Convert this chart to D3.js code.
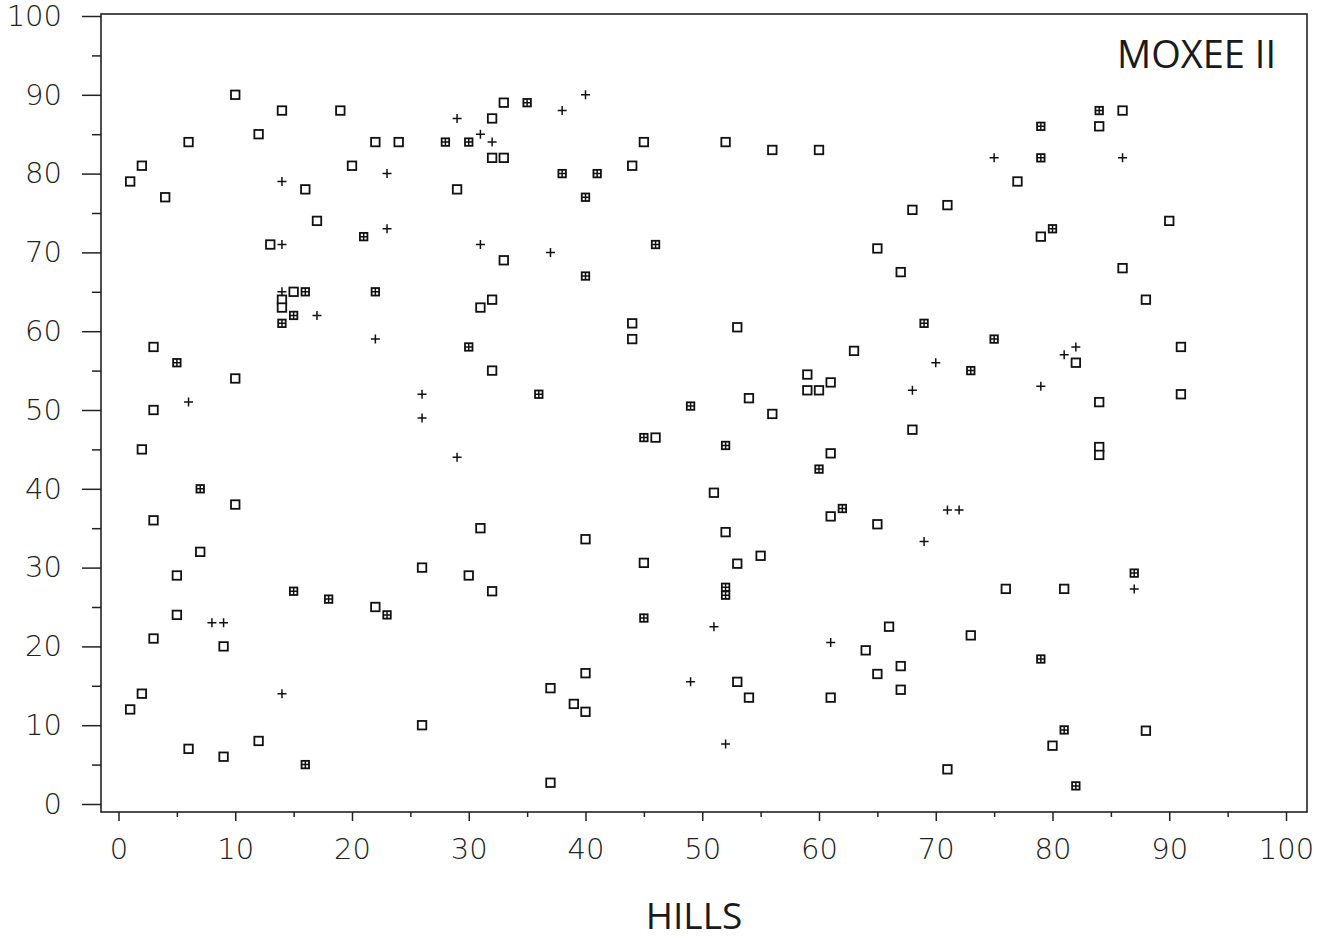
<!DOCTYPE html>
<html>
  <head>
    <title>MOXEE II</title>
    <script src="https://cdn.jsdelivr.net/npm/d3@7"></script>
    <style>
      body { margin: 0; background: #fff; }
      .tick text { font-family: "DejaVu Sans", sans-serif; font-weight: 200; fill: #222; }
    </style>
  </head>
  <body>
    <svg width="1331" height="939" id="mainsvg"></svg>
    <script>
      // values, [HILLS, y]
      const openSquares = [
        [10,90],[14,88],[19,88],[6,84],[12,85],[2,81],[1,79],[4,77],[16,78],[20,81],[22,84],[24,84],
        [32,87],[33,89],[32,82],[33,82],[29,78],[17,74],[13,71],[33,69],[15,65],[14,64],[14,63],
        [32,64],[31,63],[32,55],[3,58],[10,54],[3,50],
        [44,81],[45,84],[52,84],[56,83],[60,83],[68,75.4],[65,70.5],[67,67.5],[44,61],[44,59],
        [53,60.5],[63,57.5],[59,54.5],[59,52.5],[60,52.5],[61,53.5],[54,51.5],[56,49.5],
        [86,88],[84,86],[77,79],[71,76],[90,74],[79,72],[86,68],[88,64],[82,56],[91,58],[91,52],[84,51],
        [2,45],[10,38],[3,36],[7,32],[5,29],[5,24],[9,20],[3,21],[2,14],[1,12],[6,7],[9,6],[12,8],
        [22,25],[26,30],[26,10],[31,35],[30,29],[32,27],
        [46,46.5],[68,47.5],[61,44.5],[51,39.5],[61,36.5],[65,35.5],[40,33.6],[52,34.5],[45,30.6],
        [53,30.5],[55,31.5],[66,22.5],[64,19.5],[67,17.5],[65,16.5],[67,14.5],[61,13.5],[40,16.6],
        [37,14.7],[39,12.7],[40,11.7],[53,15.5],[54,13.5],[37,2.7],
        [84,45.3],[84,44.3],[76,27.3],[81,27.3],[73,21.4],[88,9.3],[80,7.4],[71,4.4]
      ];
      const crossedSquares = [
        [28,84],[30,84],[21,72],[16,65],[22,65],[14,61],[15,62],[30,58],[5,56],[35,89],[38,80],
        [41,80],[40,77],[46,71],[40,67],[36,52],[49,50.5],[84,88],[79,86],[79,82],[80,73],[69,61],
        [75,59],[73,55],[7,40],[16,5],[15,27],[18,26],[23,24],[45,46.5],[52,45.5],[60,42.5],
        [62,37.5],[52,27.5],[52,26.5],[45,23.6],[87,29.3],[79,18.4],[81,9.4],[82,2.3]
      ];
      const plusSigns = [
        [29,87],[31,85],[32,84],[14,79],[23,80],[23,73],[14,71],[31,71],[14,65],[17,62],[22,59],
        [6,51],[26,52],[26,49],[38,88],[40,90],[37,70],[68,52.5],[75,82],[86,82],[70,56],[82,58],
        [81,57],[79,53],[8,23],[9,23],[14,14],[29,44],[51,22.5],[61,20.5],[49,15.5],[52,7.6],
        [71,37.3],[72,37.3],[69,33.3],[87,27.3]
      ];
      const majorTicks = [0,10,20,30,40,50,60,70,80,90,100];
      const minorTicks = [5,15,25,35,45,55,65,75,85,95];
      const chartTitle = 'MOXEE II';
      const xAxisLabel = 'HILLS';

      const svg = d3.select('#mainsvg');
      const frame = {left: 101, right: 1307, top: 14, bottom: 812};

      const xScale = d3.scaleLinear().domain([0, 100]).range([118.5, 1286]);
      const yScale = d3.scaleLinear().domain([0, 100]).range([804, 16]);

      // frame
      svg.append('rect')
        .attr('x', frame.left).attr('y', frame.top)
        .attr('width', frame.right - frame.left).attr('height', frame.bottom - frame.top)
        .attr('fill', 'none').attr('stroke', '#222').attr('stroke-width', 1.6);

      // y axis, major then minor
      const yMajor = svg.append('g').attr('transform', `translate(${frame.left},0)`)
        .call(d3.axisLeft(yScale).tickValues(majorTicks).tickSize(19).tickPadding(20));
      yMajor.selectAll('text').attr('font-size', 29);
      svg.append('g').attr('transform', `translate(${frame.left},0)`)
        .call(d3.axisLeft(yScale).tickValues(minorTicks).tickSize(9).tickFormat(''));

      // x axis
      const xMajor = svg.append('g').attr('transform', `translate(0,${frame.bottom})`)
        .call(d3.axisBottom(xScale).tickValues(majorTicks).tickSize(9).tickPadding(17));
      xMajor.selectAll('text').attr('font-size', 29);
      svg.append('g').attr('transform', `translate(0,${frame.bottom})`)
        .call(d3.axisBottom(xScale).tickValues(minorTicks).tickSize(5).tickFormat(''));

      svg.selectAll('.domain').remove();
      svg.selectAll('.tick line').attr('stroke', '#222').attr('stroke-width', 1.5);

      const g = svg.append('g').attr('stroke', '#111').attr('fill', 'none');

      // open squares
      g.selectAll('rect.open').data(openSquares).join('rect')
        .attr('class', 'open')
        .attr('x', d => xScale(d[0]) - 4.25).attr('y', d => yScale(d[1]) - 4.25)
        .attr('width', 8.5).attr('height', 8.5)
        .attr('fill', '#fff').attr('stroke-width', 1.8);

      // squares with a cross inside
      const crossed = g.selectAll('g.crossed').data(crossedSquares).join('g')
        .attr('class', 'crossed')
        .attr('transform', d => `translate(${xScale(d[0])},${yScale(d[1])})`);
      crossed.append('rect')
        .attr('x', -3.75).attr('y', -3.75).attr('width', 7.5).attr('height', 7.5)
        .attr('fill', '#fff').attr('stroke-width', 1.8);
      crossed.append('path')
        .attr('d', 'M-3.75,0H3.75M0,-3.75V3.75')
        .attr('stroke-width', 1.5);

      // plus signs
      g.selectAll('path.plus').data(plusSigns).join('path')
        .attr('class', 'plus')
        .attr('d', d => {
          const cx = xScale(d[0]), cy = yScale(d[1]);
          return `M${cx - 4.5},${cy}H${cx + 4.5}M${cx},${cy - 4.5}V${cy + 4.5}`;
        })
        .attr('stroke-width', 1.5);

      svg.append('text')
        .attr('x', 1276).attr('y', 68)
        .attr('text-anchor', 'end')
        .attr('font-family', '"Open Sans", sans-serif')
        .attr('font-size', 38)
        .attr('fill', '#1a1a1a')
        .text(chartTitle);

      svg.append('text')
        .attr('x', 694).attr('y', 929)
        .attr('text-anchor', 'middle')
        .attr('font-family', '"Open Sans", sans-serif')
        .attr('font-size', 37)
        .attr('fill', '#1a1a1a')
        .text(xAxisLabel);
    </script>
  </body>
</html>
